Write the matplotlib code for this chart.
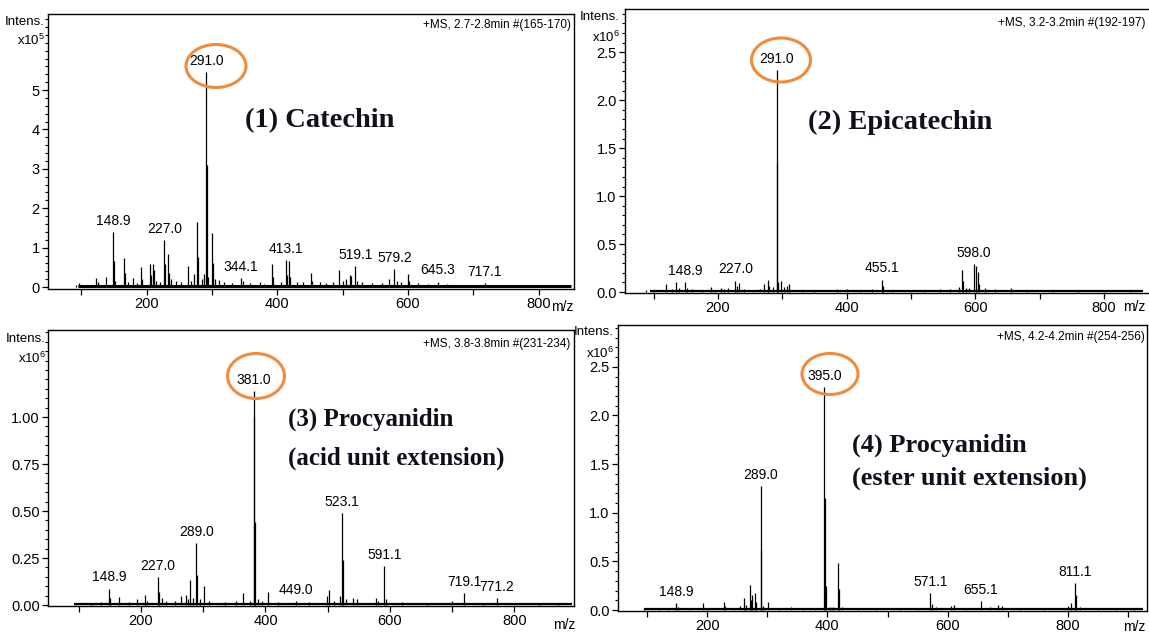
import matplotlib.pyplot as plt
from matplotlib.patches import Ellipse
from matplotlib.ticker import MultipleLocator, FixedLocator, FuncFormatter
import numpy as np

plt.rcParams['font.family'] = ['Liberation Sans', 'DejaVu Sans']
plt.rcParams['mathtext.default'] = 'regular'

W, H = 1149, 635

# ---------------- data ----------------
# (1) Catechin, intensity x10^5
mz1 = [92, 96, 122.5, 125, 138, 148.9, 150, 152, 165, 166.5, 172, 179, 185, 191.5, 193,
       205, 207, 209, 211, 215, 220, 227.0, 228.5, 232.6, 234, 238, 245, 252, 263, 268,
       272, 277.6, 279, 285, 288, 291.0, 292.2, 294, 299.5, 301, 305, 310, 318, 330,
       344.1, 348, 358, 373, 380, 392.4, 394, 405, 413.1, 415, 417.5, 419, 430, 440,
       451.8, 453, 465, 475, 485, 494.4, 500, 505, 510.6, 513, 519.1, 522, 530, 545,
       560, 570.4, 579.2, 583, 590, 600.5, 602, 615, 630, 645.3, 660, 680, 700, 717.1,
       740, 760, 790, 820, 840]
int1 = [0.06, 0.10, 0.24, 0.12, 0.26, 1.40, 0.66, 0.15, 0.74, 0.35, 0.12, 0.22, 0.10, 0.50, 0.20,
        0.58, 0.30, 0.58, 0.42, 0.15, 0.12, 1.19, 0.58, 0.84, 0.35, 0.20, 0.15, 0.12, 0.54, 0.15,
        0.33, 1.64, 0.77, 0.20, 0.33, 5.45, 3.10, 0.25, 1.38, 0.60, 0.20, 0.18, 0.12, 0.10,
        0.22, 0.15, 0.10, 0.12, 0.08, 0.58, 0.25, 0.12, 0.69, 0.30, 0.66, 0.25, 0.12, 0.12,
        0.35, 0.15, 0.12, 0.10, 0.12, 0.43, 0.15, 0.20, 0.30, 0.28, 0.54, 0.15, 0.12, 0.10,
        0.10, 0.20, 0.45, 0.15, 0.12, 0.32, 0.15, 0.10, 0.08, 0.14, 0.07, 0.06, 0.06, 0.10,
        0.05, 0.05, 0.05, 0.05, 0.04]
labels1 = ['148.9', '227.0', '291.0', '344.1', '413.1', '519.1', '579.2', '645.3', '717.1']
base1 = (95, 850, 0.05)

# (2) Epicatechin, intensity x10^6
mz2 = [88, 100, 120, 128, 135, 140, 148.9, 152, 160, 175, 189.6, 195, 205, 210, 215,
       227.0, 229, 232, 240, 255, 265, 271.4, 277, 279, 285, 291.0, 292.2, 294, 298, 302,
       308, 311, 330, 350, 385, 400, 420, 440, 455.1, 457, 470, 500, 520, 545, 560, 575,
       579, 581, 585, 590, 598.0, 601, 604, 606, 615, 630, 656, 680, 720, 760, 800, 840]
int2 = [0.02, 0.02, 0.08, 0.03, 0.107, 0.04, 0.10, 0.04, 0.03, 0.02, 0.05, 0.02, 0.04, 0.035, 0.04,
        0.12, 0.06, 0.09, 0.03, 0.02, 0.03, 0.08, 0.13, 0.06, 0.05, 2.31, 1.35, 0.10, 0.11, 0.05,
        0.06, 0.08, 0.02, 0.02, 0.03, 0.03, 0.02, 0.03, 0.13, 0.06, 0.02, 0.02, 0.02, 0.03, 0.03, 0.05,
        0.23, 0.12, 0.04, 0.04, 0.29, 0.27, 0.21, 0.08, 0.04, 0.03, 0.04, 0.02, 0.02, 0.02, 0.015, 0.015]
labels2 = ['148.9', '227.0', '291.0', '455.1', '598.0']
base2 = (95, 860, 0.012)

# (3) Procyanidin (acid unit extension), intensity x10^6
mz3 = [95, 120, 135, 148.9, 150, 164.8, 180, 193, 206, 210, 227.0, 228.5, 233, 240, 255,
       264.5, 271.6, 275, 278.8, 283, 289.0, 290.2, 295, 301, 310, 335, 352, 364, 375,
       381.0, 382.2, 383.4, 388, 395, 404, 420, 449.0, 470, 499, 502, 510, 519, 523.1,
       524.5, 530, 540, 547, 578, 580, 591.1, 593, 620, 660, 700, 719.1, 750, 771.2,
       800, 840, 870]
int3 = [0.01, 0.01, 0.015, 0.088, 0.04, 0.044, 0.015, 0.03, 0.053, 0.02, 0.15, 0.07, 0.04, 0.02, 0.02,
        0.05, 0.055, 0.03, 0.133, 0.04, 0.33, 0.16, 0.03, 0.10, 0.02, 0.015, 0.02, 0.062, 0.02,
        1.136, 1.00, 0.44, 0.03, 0.02, 0.071, 0.015, 0.02, 0.015, 0.05, 0.08, 0.02, 0.05, 0.487,
        0.24, 0.03, 0.04, 0.03, 0.04, 0.02, 0.209, 0.03, 0.015, 0.01, 0.02, 0.062, 0.01, 0.035,
        0.01, 0.01, 0.01]
labels3 = ['148.9', '227.0', '289.0', '381.0', '449.0', '523.1', '591.1', '719.1', '771.2']
base3 = (92, 893, 0.006)

# (4) Procyanidin (ester unit extension), intensity x10^6
mz4 = [95, 120, 135, 148.9, 152, 170, 192.7, 200, 227.4, 230, 245, 255, 261, 265, 271.3,
       273, 275, 279, 281, 289.0, 290.2, 293, 300.6, 320, 340, 360, 380, 395.0, 396.2,
       397.4, 405, 410, 418.3, 419.5, 425, 450, 480, 520, 550, 571.1, 574, 580, 605, 610,
       630, 655.1, 670, 683.6, 690, 720, 760, 800, 804.9, 811.1, 812.5, 820, 850, 880, 910]
int4 = [0.02, 0.015, 0.02, 0.068, 0.03, 0.02, 0.068, 0.02, 0.086, 0.04, 0.02, 0.04, 0.12, 0.05, 0.257,
        0.10, 0.15, 0.17, 0.08, 1.277, 0.62, 0.04, 0.086, 0.02, 0.03, 0.02, 0.02, 2.29, 1.15,
        0.25, 0.03, 0.03, 0.48, 0.22, 0.03, 0.02, 0.02, 0.02, 0.02, 0.17, 0.06, 0.03, 0.04, 0.05,
        0.02, 0.09, 0.03, 0.05, 0.045, 0.02, 0.02, 0.04, 0.07, 0.28, 0.15, 0.03, 0.02, 0.02, 0.015]
labels4 = ['148.9', '289.0', '395.0', '571.1', '655.1', '811.1']
base4 = (95, 925, 0.012)

headers = ['+MS, 2.7-2.8min #(165-170)', '+MS, 3.2-3.2min #(192-197)',
           '+MS, 3.8-3.8min #(231-234)', '+MS, 4.2-4.2min #(254-256)']
titles = [['(1) Catechin'], ['(2) Epicatechin'],
          ['(3) Procyanidin', '(acid unit extension)'],
          ['(4) Procyanidin', '(ester unit extension)']]
exponents = [5, 6, 6, 6]

# ---------------- layout (pixels) ----------------
boxes = [(48, 14, 574, 289), (625, 9, 1155, 293), (48, 330, 574, 606), (618, 325, 1147, 611)]
xlims = [(49, 854), (55.6, 879), (50.6, 895.6), (52, 931)]
ylims = [(-0.05, 6.93), (-0.01, 2.95), (-0.005, 1.463), (-0.01, 2.93)]
ymajor = [[0, 1, 2, 3, 4, 5], [0, 0.5, 1.0, 1.5, 2.0, 2.5],
          [0, 0.25, 0.5, 0.75, 1.0], [0, 0.5, 1.0, 1.5, 2.0, 2.5]]
yminor = [0.2, 0.1, 0.05, 0.1]
yfmt = ['{:.0f}', '{:.1f}', '{:.2f}', '{:.1f}']
base_lw = [2.2, 1.6, 1.6, 1.6]
title_pos = [[(245, 121)], [(808, 122)], [(288, 419), (288, 458)], [(852, 445), (852, 478)]]
title_size = [20.5, 20.5, 18, 19]
header_pos = [(571, 25), (1146, 23), (570, 344), (1145, 337)]
intens_pos = [(45, 22, 40), (620, 17, 37), (46, 339, 358), (614, 332, 353)]
mz_pos = [(562, 307), (1134, 307), (564, 625), (1134, 627)]
ellipses = [(216, 66, 60, 43), (781, 60, 59, 44), (256, 376, 57, 45), (830, 374, 56, 41)]

panels = [(mz1, int1, labels1, base1), (mz2, int2, labels2, base2),
          (mz3, int3, labels3, base3), (mz4, int4, labels4, base4)]

fig = plt.figure(figsize=(W / 100, H / 100), dpi=100)


def fx(px):
    return px / W


def fy(py):
    return 1 - py / H


for i, (mz, inten, labs, base) in enumerate(panels):
    l, t, r, b = boxes[i]
    ax = fig.add_axes([fx(l), fy(b), (r - l) / W, (b - t) / H])
    mz = np.array(mz)
    inten = np.array(inten)

    # baseline "grass" and the peaks
    ax.plot([base[0], base[1]], [base[2] / 2, base[2] / 2], color='black', lw=base_lw[i],
            solid_capstyle='butt')
    ax.vlines(mz, 0, inten, color='black', lw=0.9)

    for lab in labs:
        m = float(lab)
        near = np.abs(mz - m) < 2.5
        top = inten[near].max()
        ax.annotate(lab, (m, top), xytext=(0, 3), textcoords='offset points',
                    ha='center', va='bottom', fontsize=10)

    ax.set_xlim(*xlims[i])
    ax.set_ylim(*ylims[i])
    ax.xaxis.set_major_locator(MultipleLocator(100))
    ax.xaxis.set_major_formatter(FuncFormatter(
        lambda v, p: f'{v:.0f}' if v % 200 == 0 and v > 0 else ''))
    ax.yaxis.set_major_locator(FixedLocator(ymajor[i]))
    ax.yaxis.set_minor_locator(MultipleLocator(yminor[i]))
    f = yfmt[i]
    ax.yaxis.set_major_formatter(FuncFormatter(lambda v, p, f=f: f.format(v)))
    ax.tick_params(axis='both', which='major', direction='out', length=4, width=0.9,
                   labelsize=10.5, pad=2)
    ax.tick_params(axis='y', which='minor', direction='out', length=2.5, width=0.8)
    for s in ax.spines.values():
        s.set_linewidth(1.0)

    # overlay texts
    hx, hy = header_pos[i]
    fig.text(fx(hx), fy(hy), headers[i], ha='right', va='center', fontsize=8.5)
    ix, iy1, iy2 = intens_pos[i]
    fig.text(fx(ix), fy(iy1), 'Intens.', ha='right', va='center', fontsize=9.5)
    fig.text(fx(ix), fy(iy2), rf'x10$^{{{exponents[i]}}}$', ha='right', va='center', fontsize=9.5)
    mx, my = mz_pos[i]
    fig.text(fx(mx), fy(my), 'm/z', ha='center', va='center', fontsize=10)
    for line, (tx, ty) in zip(titles[i], title_pos[i]):
        fig.text(fx(tx), fy(ty), line, ha='left', va='center', fontsize=title_size[i],
                 family='Liberation Serif', weight='bold', color='#10101c')
    ex, ey, ew, eh = ellipses[i]
    fig.patches.append(Ellipse((fx(ex), fy(ey)), ew / W, eh / H, fill=False,
                               edgecolor='#F08A3C', lw=2.2, transform=fig.transFigure,
                               figure=fig))

fig.savefig('out.png', dpi=100)
